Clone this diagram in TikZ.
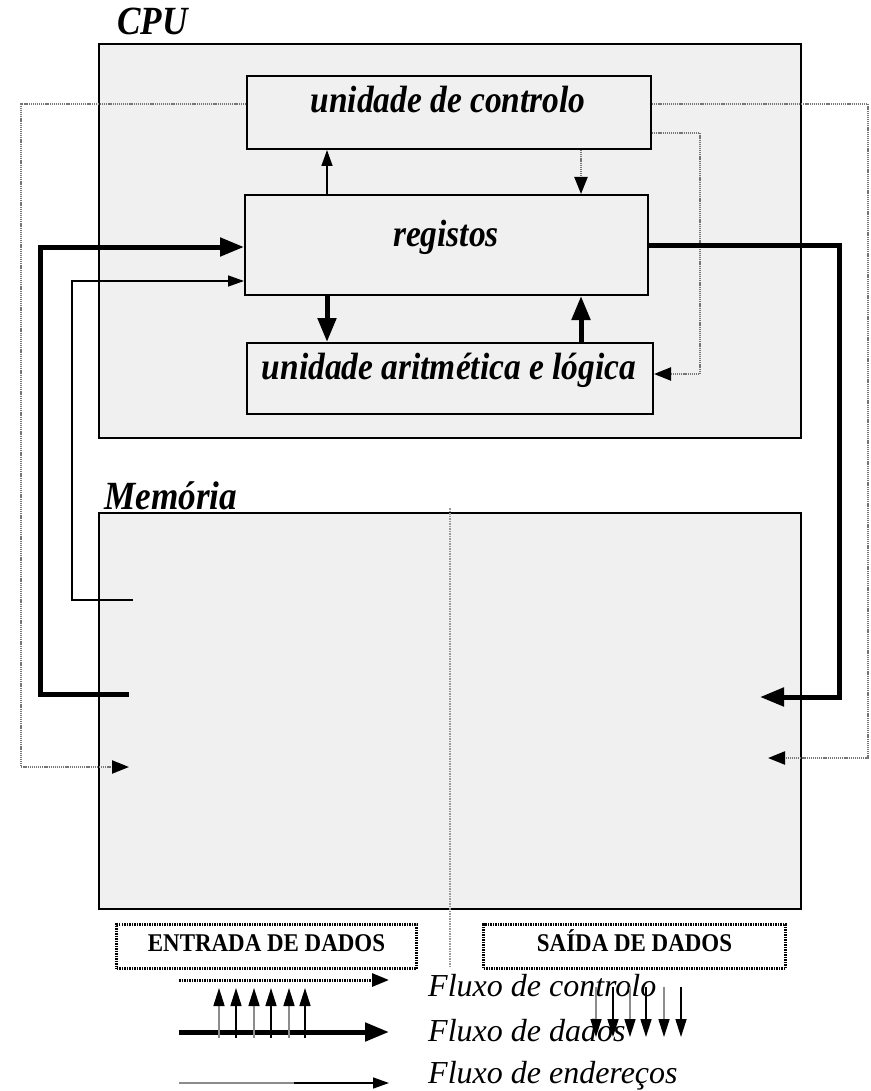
\documentclass[tikz,border=0pt]{standalone}
\usepackage{fontspec}
\setmainfont{Liberation Serif}
\newfontfamily\condfont[FakeStretch=0.88]{Liberation Serif}
\newfontfamily\iofont[FakeStretch=0.9]{Liberation Serif}
\usetikzlibrary{arrows.meta}
\definecolor{boxfill}{HTML}{F0F0F0}
\definecolor{ctrlgray}{HTML}{767676}
\definecolor{midgray}{HTML}{9A9A9A}
\definecolor{busgray}{HTML}{8C8C8C}
\begin{document}
\begin{tikzpicture}[x=1pt,y=-1pt,
  unitbox/.style={draw, line width=2pt, fill=boxfill, inner sep=0pt, anchor=north west},
  lbl/.style={anchor=base, inner sep=0pt, font=\condfont\bfseries\itshape\fontsize{38}{40}\selectfont},
  titlelbl/.style={anchor=base west, inner sep=0pt, font=\condfont\bfseries\itshape\fontsize{40}{42}\selectfont},
  iobox/.style={draw, line width=3pt, dash pattern=on 1.5pt off 1pt, inner sep=0pt, anchor=north west,
    text height=10pt, text depth=0pt, font=\iofont\bfseries\fontsize{25.5}{27}\selectfont},
  legendlbl/.style={anchor=base west, inner sep=0pt, font=\itshape\fontsize{32}{34}\selectfont},
  dataflow/.style={line width=5pt, -{Triangle[length=24pt,width=18pt]}},
  addrflow/.style={line width=1.5pt, -{Triangle[length=16pt,width=11pt]}},
  ctrlflow/.style={line width=2.2pt, draw=ctrlgray, dash pattern=on 1.2pt off 0.9pt,
    -{Triangle[length=17pt,width=13pt,color=black]}},
  plainline/.style={line width=1.5pt},
  busarrow/.style={line width=1.6pt, -{Triangle[length=18pt,width=11pt,color=black]}},
]
\useasboundingbox (0,0) rectangle (870,1091);

% CPU
\node[titlelbl] (cpulbl) at (117,35) {CPU};
\node[unitbox, minimum width=702pt, minimum height=394pt] (cpu) at (98,43) {};
\node[unitbox, minimum width=404pt, minimum height=73pt] (ctrl) at (246,75) {};
\node[unitbox, minimum width=403pt, minimum height=100pt] (reg) at (244,194) {};
\node[unitbox, minimum width=406pt, minimum height=71pt] (alu) at (246,342) {};
\node[lbl] (ctrltxt) at (448,113) {unidade de controlo};
\node[lbl] (regtxt) at (446,247) {registos};
\node[lbl] (alutxt) at (449,379) {unidade aritmética e lógica};

% Memory
\node[titlelbl] (memlbl) at (104,509) {Memória};
\node[unitbox, minimum width=702pt, minimum height=396pt] (mem) at (98,512) {};

% memory-side connector ends
\coordinate (memDin) at (129,694);
\coordinate (memAin) at (133,600);
\coordinate (memCin) at (129,767);
\coordinate (memDout) at (760,697);
\coordinate (memCout) at (768,758);
\coordinate (midtop) at (450,508);
\coordinate (midbot) at (450,968);

% internal CPU connectors
\draw[addrflow] (327,0 |- reg.north) -- (327,0 |- ctrl.south);
\draw[ctrlflow] (581,0 |- ctrl.south) -- (581,0 |- reg.north);
\draw[dataflow] (327,0 |- reg.south) -- (327,0 |- alu.north);
\draw[dataflow] (581,0 |- alu.north) -- (581,0 |- reg.south);
\draw[ctrlflow] (ctrl.east |- 0,133) -- (700,133) -- (700,374) -- (alu.east |- 0,374);

% left connectors
\draw[ctrlflow] (ctrl.west |- 0,104) -- (21,104) -- (21,767) -- (memCin);
\draw[dataflow] (memDin) -- (40,694) -- (40,247) -- (reg.west |- 0,247);
\draw[addrflow] (memAin) -- (72,600) -- (72,281) -- (reg.west |- 0,281);

% right connectors
\draw[dataflow] (reg.east |- 0,245) -- (839,245) -- (839,697) -- (memDout);
\draw[ctrlflow] (ctrl.east |- 0,104) -- (868,104) -- (868,758) -- (memCout);

% middle divider
\draw[line width=1.6pt, draw=midgray, dash pattern=on 1.5pt off 1pt] (midtop) -- (midbot);

% I/O boxes
\node[iobox, minimum width=300pt, minimum height=44pt] (entrada) at (115,923) {ENTRADA DE DADOS};
\node[iobox, minimum width=302pt, minimum height=44pt] (saida) at (482,923) {SAÍDA DE DADOS};

% legend
\node[legendlbl] (lgc) at (428,996) {Fluxo de controlo};
\node[legendlbl] (lgd) at (428,1041) {Fluxo de dados};
\node[legendlbl] (lge) at (428,1083) {Fluxo de endereços};

\coordinate (lcs) at (179,980); \coordinate (lce) at (389,980);
\coordinate (lds) at (179,1032); \coordinate (lde) at (389,1032);
\coordinate (les) at (179,1083); \coordinate (lem) at (294,1083); \coordinate (lee) at (389,1083);
\draw[line width=3pt, dash pattern=on 1.5pt off 1pt, -{Triangle[length=17pt,width=13pt]}] (lcs) -- (lce);
\draw[dataflow] (lds) -- (lde);
\draw[plainline, draw=busgray] (les) -- (lem);
\draw[addrflow] (lem) -- (lee);

% bus arrows
\foreach \x/\c [count=\i] in {219/busgray,236/black,254/busgray,271/black,289/busgray,305/black}{
  \coordinate (up\i a) at (\x,1038); \coordinate (up\i b) at (\x,988);
  \draw[busarrow, draw=\c] (up\i a) -- (up\i b);
}
\foreach \x/\c [count=\i] in {596/busgray,613/black,630/busgray,646/black,664/busgray,681/black}{
  \coordinate (dn\i a) at (\x,987); \coordinate (dn\i b) at (\x,1037);
  \draw[busarrow, draw=\c] (dn\i a) -- (dn\i b);
}
\end{tikzpicture}
\end{document}
